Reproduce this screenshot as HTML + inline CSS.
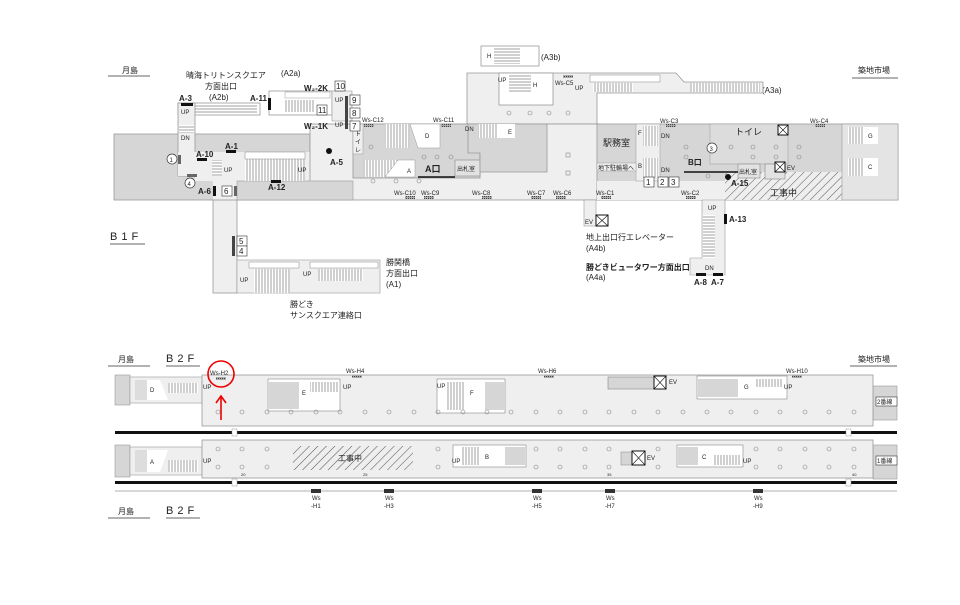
<!DOCTYPE html>
<html><head><meta charset="utf-8">
<style>
html,body{margin:0;padding:0;background:#fff;}
svg{display:block;font-family:"Liberation Sans","Noto Sans CJK JP",sans-serif;}
text{font-size:8px;fill:#222;}
.b{font-weight:bold;}
.s{font-size:6px;}
</style></head><body>
<svg width="960" height="605" viewBox="0 0 960 605" xmlns="http://www.w3.org/2000/svg">
<defs>
<pattern id="st" width="3" height="4" patternUnits="userSpaceOnUse"><rect width="3" height="4" fill="#fff"/><line x1="1" y1="0" x2="1" y2="4" stroke="#777" stroke-width="0.7"/></pattern>
<pattern id="sth" width="4" height="3" patternUnits="userSpaceOnUse"><rect width="4" height="3" fill="#fff"/><line x1="0" y1="1" x2="4" y2="1" stroke="#777" stroke-width="0.7"/></pattern>
<pattern id="hat" width="6" height="6" patternUnits="userSpaceOnUse" patternTransform="rotate(45)"><rect width="6" height="6" fill="#eee"/><line x1="0" y1="0" x2="0" y2="6" stroke="#555" stroke-width="1"/></pattern>
<pattern id="mk" width="2" height="2" patternUnits="userSpaceOnUse"><rect width="2" height="2" fill="#aaa"/><rect width="1" height="1" fill="#444"/></pattern>
</defs>

<!-- ============ B1F ============ -->
<!-- labels top -->
<text x="122" y="73">月島</text>
<line x1="108" y1="76" x2="150" y2="76" stroke="#333" stroke-width="0.8"/>
<text x="186" y="78">晴海トリトンスクエア</text>
<text x="205" y="89">方面出口</text>
<text x="209" y="100">(A2b)</text>
<text x="281" y="76">(A2a)</text>
<text x="541" y="60">(A3b)</text>
<text x="762" y="93">(A3a)</text>
<text x="858" y="73">築地市場</text>
<line x1="852" y1="78" x2="898" y2="78" stroke="#333" stroke-width="0.8"/>

<!-- upper right light area -->
<polygon points="467,73 676,73 684,82 763,82 763,93 597,93 597,124 467,124" fill="#efefef" stroke="#999" stroke-width="0.8"/>
<rect x="499" y="73" width="54" height="32" fill="#fff" stroke="#999" stroke-width="0.8"/>
<rect x="509" y="75" width="22" height="18" fill="url(#sth)"/>
<rect x="481" y="46" width="58" height="20" fill="#fff" stroke="#999" stroke-width="0.8"/>
<rect x="494" y="48" width="26" height="16" fill="url(#sth)"/>
<text x="487" y="58" class="s">H</text><text x="533" y="87" class="s">H</text>
<text x="498" y="82" class="s">UP</text>
<rect x="590" y="75" width="70" height="7" fill="#fff" stroke="#999" stroke-width="0.6"/>
<rect x="593" y="83" width="40" height="9" fill="url(#st)"/>
<rect x="690" y="83" width="70" height="9" fill="url(#st)"/>
<rect x="563" y="75" width="10" height="3" fill="url(#mk)"/>
<text x="555" y="85" class="s">Ws-C5</text><text x="575" y="90" class="s">UP</text>

<!-- left big grey & corridors -->
<rect x="114" y="134" width="196" height="66" fill="#d6d6d6" stroke="#999" stroke-width="0.8"/>
<rect x="178" y="103" width="82" height="12" fill="#fff" stroke="#999" stroke-width="0.8"/>
<rect x="195" y="105" width="62" height="8" fill="url(#sth)"/>
<rect x="178" y="103" width="17" height="73" fill="#efefef" stroke="#999" stroke-width="0.8"/>
<rect x="179" y="125" width="15" height="8" fill="url(#sth)"/>
<text x="181" y="114" class="s">UP</text><text x="181" y="140" class="s">DN</text>
<rect x="195" y="152" width="157" height="29" fill="#efefef"/>
<rect x="178" y="152" width="34" height="24" fill="#efefef"/>
<rect x="213" y="181" width="24" height="20" fill="#efefef"/>
<!-- A2a box -->
<rect x="269" y="91" width="63" height="24" fill="#fff" stroke="#999" stroke-width="0.8"/>
<rect x="285" y="92" width="45" height="6" fill="#fff" stroke="#999" stroke-width="0.5"/>
<rect x="285" y="100" width="30" height="12" fill="url(#st)"/>
<rect x="332" y="91" width="20" height="30" fill="#efefef" stroke="#999" stroke-width="0.6"/>
<!-- main light concourse -->
<rect x="310" y="124" width="290" height="76" fill="#efefef" stroke="#999" stroke-width="0.8"/>
<rect x="237" y="181" width="116" height="19" fill="#d6d6d6" stroke="#999" stroke-width="0.6"/>
<rect x="245" y="152" width="60" height="29" fill="url(#st)"/>
<rect x="245" y="152" width="60" height="7" fill="#fff" stroke="#888" stroke-width="0.5"/>
<rect x="212" y="160" width="10" height="16" fill="url(#sth)"/>
<text x="224" y="172" class="s">UP</text><text x="298" y="172" class="s">UP</text>
<!-- D/A grey block -->
<rect x="353" y="124" width="127" height="54" fill="#d6d6d6" stroke="#999" stroke-width="0.8"/>
<rect x="385" y="124" width="25" height="24" fill="url(#st)"/>
<polygon points="410,124 440,124 440,148 418,148" fill="#fff" stroke="#999" stroke-width="0.5"/>
<rect x="363" y="160" width="35" height="17" fill="url(#st)"/>
<polygon points="398,160 415,160 415,177 385,177" fill="#fff" stroke="#999" stroke-width="0.5"/>
<text x="425" y="138" class="s">D</text><text x="407" y="173" class="s">A</text>
<rect x="353" y="124" width="10" height="30" fill="#efefef" stroke="#999" stroke-width="0.5"/>
<text x="355" y="136" class="s">ト</text><text x="355" y="144" class="s">イ</text><text x="355" y="152" class="s">レ</text>
<rect x="455" y="160" width="25" height="16" fill="#e2e2e2" stroke="#888" stroke-width="0.6"/>
<text x="457" y="171" class="s">出札室</text>
<text x="425" y="172" class="b" style="font-size:9px">A口</text>
<line x1="418" y1="177" x2="455" y2="177" stroke="#111" stroke-width="1.5"/>
<!-- E block -->
<polygon points="468,124 547,124 547,172 480,172 480,153 468,153" fill="#d6d6d6" stroke="#999" stroke-width="0.8"/>
<rect x="478" y="124" width="20" height="14" fill="url(#st)"/>
<polygon points="498,124 515,124 515,138 498,138" fill="#fff"/>
<text x="465" y="131" class="s">DN</text><text x="508" y="134" class="s">E</text>
<!-- right grey band -->
<rect x="597" y="124" width="301" height="76" fill="#d6d6d6" stroke="#999" stroke-width="0.8"/>
<rect x="597" y="181" width="128" height="19" fill="#efefef"/>
<rect x="725" y="172" width="117" height="28" fill="url(#hat)"/>
<text x="770" y="196" style="font-size:9px">工事中</text>
<rect x="636" y="124" width="24" height="57" fill="#efefef" stroke="#999" stroke-width="0.5"/>
<rect x="643" y="126" width="15" height="20" fill="url(#st)"/><rect x="643" y="158" width="15" height="20" fill="url(#st)"/>
<text x="638" y="135" class="s">F</text><text x="638" y="168" class="s">B</text>
<text x="661" y="138" class="s">DN</text><text x="661" y="172" class="s">DN</text>
<text x="603" y="146" style="font-size:9px">駅務室</text>
<rect x="597" y="163" width="39" height="8" fill="#efefef" stroke="#999" stroke-width="0.5"/>
<text x="598" y="170" class="s">地下駐輪場へ</text>
<rect x="710" y="124" width="78" height="40" fill="#dcdcdc" stroke="#999" stroke-width="0.5"/>
<text x="735" y="135" style="font-size:9px">トイレ</text>
<rect x="778" y="125" width="10" height="10" fill="#fff" stroke="#111" stroke-width="1"/>
<path d="M778 125 L788 135 M788 125 L778 135" stroke="#111" stroke-width="0.6"/>
<rect x="738" y="164" width="22" height="14" fill="#e2e2e2" stroke="#888" stroke-width="0.6"/>
<text x="739" y="174" class="s">出札室</text>
<rect x="765" y="164" width="20" height="15" fill="#e2e2e2" stroke="#888" stroke-width="0.6"/>
<rect x="775" y="162" width="10" height="10" fill="#fff" stroke="#111" stroke-width="1"/>
<path d="M775 162 L785 172 M785 162 L775 172" stroke="#111" stroke-width="0.6"/>
<text x="787" y="170" class="s">EV</text>
<text x="688" y="165" class="b" style="font-size:8px">B口</text>
<line x1="684" y1="172" x2="738" y2="172" stroke="#111" stroke-width="1.5"/>
<rect x="842" y="124" width="56" height="76" fill="#e4e4e4" stroke="#999" stroke-width="0.6"/>
<rect x="848" y="127" width="16" height="17" fill="url(#st)"/><rect x="864" y="127" width="14" height="17" fill="#fff"/>
<rect x="848" y="158" width="16" height="18" fill="url(#st)"/><rect x="864" y="158" width="14" height="18" fill="#fff"/>
<text x="868" y="138" class="s">G</text><text x="868" y="169" class="s">C</text>
<!-- lower corridors B1F -->
<rect x="213" y="200" width="24" height="93" fill="#efefef" stroke="#999" stroke-width="0.8"/>
<rect x="237" y="260" width="143" height="33" fill="#efefef" stroke="#999" stroke-width="0.6"/>
<rect x="249" y="262" width="50" height="6" fill="#fff" stroke="#888" stroke-width="0.5"/>
<rect x="310" y="262" width="68" height="6" fill="#fff" stroke="#888" stroke-width="0.5"/>
<rect x="254" y="269" width="36" height="24" fill="url(#st)"/>
<rect x="318" y="269" width="45" height="12" fill="url(#st)"/>
<text x="240" y="282" class="s">UP</text><text x="303" y="276" class="s">UP</text>
<text x="386" y="265">勝鬨橋</text><text x="386" y="276">方面出口</text><text x="386" y="287">(A1)</text>
<text x="290" y="307">勝どき</text><text x="290" y="318">サンスクエア連絡口</text>
<rect x="584" y="200" width="12" height="26" fill="#efefef" stroke="#999" stroke-width="0.6"/>
<rect x="596" y="215" width="12" height="11" fill="#fff" stroke="#111" stroke-width="1"/>
<path d="M596 215 L608 226 M608 215 L596 226" stroke="#111" stroke-width="0.6"/>
<text x="585" y="224" class="s">EV</text>
<text x="586" y="240">地上出口行エレベーター</text><text x="586" y="251">(A4b)</text>
<text x="586" y="270" class="b">勝どきビュータワー方面出口</text><text x="586" y="280">(A4a)</text>
<polygon points="702,200 725,200 725,275 690,275 690,258 702,258" fill="#efefef" stroke="#999" stroke-width="0.6"/>
<rect x="703" y="215" width="12" height="43" fill="url(#sth)"/>
<text x="708" y="210" class="s">UP</text><text x="705" y="270" class="s">DN</text>
<rect x="724" y="214" width="3" height="10" fill="#111"/><text x="729" y="222" class="b">A-13</text>
<rect x="696" y="273" width="10" height="3" fill="#111"/><rect x="713" y="273" width="10" height="3" fill="#111"/>
<text x="694" y="285" class="b">A-8</text><text x="711" y="285" class="b">A-7</text>

<!-- B1F markers/labels -->
<rect x="181" y="103" width="12" height="3" fill="#111"/><text x="179" y="101" class="b">A-3</text>
<rect x="268" y="98" width="3" height="12" fill="#111"/><text x="250" y="101" class="b">A-11</text>
<text x="304" y="91" class="b">W₂-2K</text><text x="304" y="129" class="b">W₂-1K</text>
<rect x="335" y="81" width="10" height="10" fill="#fff" stroke="#333" stroke-width="0.6"/><text x="336" y="89">10</text>
<rect x="350" y="95" width="10" height="10" fill="#fff" stroke="#333" stroke-width="0.6"/><text x="352" y="103">9</text>
<rect x="350" y="108" width="10" height="10" fill="#fff" stroke="#333" stroke-width="0.6"/><text x="352" y="116">8</text>
<rect x="350" y="121" width="10" height="10" fill="#fff" stroke="#333" stroke-width="0.6"/><text x="352" y="129">7</text>
<rect x="317" y="105" width="10" height="10" fill="#fff" stroke="#333" stroke-width="0.6"/><text x="318" y="113">11</text>
<rect x="345" y="96" width="3" height="33" fill="#444"/>
<text x="335" y="102" class="s">UP</text><text x="335" y="127" class="s">UP</text>
<circle cx="172" cy="159" r="5" fill="#fff" stroke="#333" stroke-width="0.7"/><text x="169.5" y="162" class="s">1</text>
<rect x="178" y="155" width="3" height="9" fill="#666"/>
<circle cx="190" cy="183" r="5" fill="#fff" stroke="#333" stroke-width="0.7"/><text x="187.5" y="186" class="s">4</text>
<rect x="187" y="174" width="10" height="3" fill="#666"/>
<rect x="197" y="158" width="10" height="3" fill="#111"/><text x="196" y="157" class="b">A-10</text>
<rect x="226" y="150" width="10" height="3" fill="#111"/><text x="225" y="149" class="b">A-1</text>
<rect x="271" y="180" width="10" height="3" fill="#111"/><text x="268" y="190" class="b">A-12</text>
<rect x="213" y="186" width="3" height="10" fill="#111"/><text x="198" y="194" class="b">A-6</text>
<rect x="222" y="186" width="10" height="10" fill="#fff" stroke="#333" stroke-width="0.6"/><text x="224" y="194">6</text>
<rect x="234" y="186" width="3" height="10" fill="#666"/>
<circle cx="329" cy="151" r="3" fill="#111"/><text x="330" y="165" class="b">A-5</text>
<rect x="232" y="236" width="3" height="20" fill="#444"/>
<rect x="237" y="236" width="10" height="10" fill="#fff" stroke="#333" stroke-width="0.6"/><text x="239" y="244">5</text>
<rect x="237" y="246" width="10" height="10" fill="#fff" stroke="#333" stroke-width="0.6"/><text x="239" y="254">4</text>
<text x="110" y="240" style="font-size:11px;letter-spacing:4px">B1F</text>
<line x1="110" y1="244" x2="145" y2="244" stroke="#333" stroke-width="0.8"/>
<!-- ws markers -->
<g class="s">
<text x="362" y="122" class="s">Ws-C12</text><rect x="364" y="124" width="10" height="3" fill="url(#mk)"/>
<text x="433" y="122" class="s">Ws-C11</text><rect x="441" y="124" width="10" height="3" fill="url(#mk)"/>
<text x="394" y="195" class="s">Ws-C10</text><rect x="405" y="196" width="10" height="3" fill="url(#mk)"/>
<text x="421" y="195" class="s">Ws-C9</text><rect x="424" y="196" width="10" height="3" fill="url(#mk)"/>
<text x="472" y="195" class="s">Ws-C8</text><rect x="482" y="196" width="10" height="3" fill="url(#mk)"/>
<text x="527" y="195" class="s">Ws-C7</text><rect x="531" y="196" width="10" height="3" fill="url(#mk)"/>
<text x="553" y="195" class="s">Ws-C6</text><rect x="556" y="196" width="10" height="3" fill="url(#mk)"/>
<text x="596" y="195" class="s">Ws-C1</text><rect x="601" y="196" width="10" height="3" fill="url(#mk)"/>
<text x="681" y="195" class="s">Ws-C2</text><rect x="686" y="196" width="10" height="3" fill="url(#mk)"/>
<text x="660" y="123" class="s">Ws-C3</text><rect x="666" y="124" width="10" height="3" fill="url(#mk)"/>
<text x="810" y="123" class="s">Ws-C4</text><rect x="815" y="124" width="10" height="3" fill="url(#mk)"/>
</g>
<rect x="644" y="177" width="10" height="10" fill="#fff" stroke="#333" stroke-width="0.6"/><text x="646" y="185">1</text>
<rect x="658" y="177" width="10" height="10" fill="#fff" stroke="#333" stroke-width="0.6"/><text x="660" y="185">2</text>
<rect x="669" y="177" width="10" height="10" fill="#fff" stroke="#333" stroke-width="0.6"/><text x="671" y="185">3</text>
<circle cx="712" cy="148" r="5" fill="#fff" stroke="#333" stroke-width="0.7"/><text x="709.5" y="151" class="s">3</text>
<circle cx="728" cy="177" r="3" fill="#111"/><text x="731" y="186" class="b">A-15</text>
<g fill="none" stroke="#888" stroke-width="0.6">
<circle cx="371" cy="147" r="2"/><circle cx="424" cy="157" r="2"/><circle cx="437" cy="157" r="2"/><circle cx="451" cy="157" r="2"/>
<circle cx="373" cy="181" r="2"/><circle cx="396" cy="181" r="2"/><circle cx="419" cy="181" r="2"/>
<circle cx="509" cy="113" r="2"/><circle cx="530" cy="113" r="2"/><circle cx="549" cy="113" r="2"/><circle cx="568" cy="113" r="2"/>
<rect x="566" y="153" width="4" height="4"/><rect x="566" y="171" width="4" height="4"/>
<circle cx="686" cy="147" r="2"/><circle cx="686" cy="157" r="2"/><circle cx="731" cy="147" r="2"/><circle cx="753" cy="147" r="2"/><circle cx="776" cy="147" r="2"/><circle cx="799" cy="147" r="2"/><circle cx="799" cy="157" r="2"/><circle cx="753" cy="157" r="2"/><circle cx="776" cy="157" r="2"/><circle cx="708" cy="176" r="2"/>
</g>

<!-- ============ B2F ============ -->
<text x="118" y="362">月島</text><line x1="108" y1="366" x2="150" y2="366" stroke="#333" stroke-width="0.8"/>
<text x="166" y="362" style="font-size:11px;letter-spacing:4px">B2F</text><line x1="166" y1="366" x2="200" y2="366" stroke="#333" stroke-width="0.8"/>
<text x="858" y="362">築地市場</text><line x1="850" y1="366" x2="897" y2="366" stroke="#333" stroke-width="0.8"/>
<text x="118" y="514">月島</text><line x1="108" y1="518" x2="150" y2="518" stroke="#333" stroke-width="0.8"/>
<text x="166" y="514" style="font-size:11px;letter-spacing:4px">B2F</text><line x1="166" y1="518" x2="200" y2="518" stroke="#333" stroke-width="0.8"/>

<!-- left stubs -->
<rect x="115" y="375" width="15" height="30" fill="#d6d6d6" stroke="#999" stroke-width="0.6"/>
<rect x="130" y="377" width="72" height="26" fill="#efefef" stroke="#999" stroke-width="0.6"/>
<rect x="135" y="380" width="12" height="20" fill="#ddd"/>
<polygon points="147,380 160,380 168,400 147,400" fill="#fff"/><rect x="168" y="383" width="30" height="10" fill="url(#st)"/>
<text x="150" y="392" class="s">D</text>
<rect x="115" y="445" width="15" height="32" fill="#d6d6d6" stroke="#999" stroke-width="0.6"/>
<rect x="130" y="447" width="72" height="28" fill="#efefef" stroke="#999" stroke-width="0.6"/>
<rect x="135" y="450" width="12" height="22" fill="#ddd"/>
<polygon points="147,450 168,450 160,472 147,472" fill="#fff"/><rect x="168" y="460" width="30" height="12" fill="url(#st)"/>
<text x="150" y="464" class="s">A</text>
<!-- right stubs -->
<rect x="873" y="386" width="24" height="34" fill="#d6d6d6" stroke="#999" stroke-width="0.6"/>
<rect x="876" y="397" width="21" height="9" fill="#fff" stroke="#333" stroke-width="0.6"/><text x="877" y="404" class="s">2番線</text>
<rect x="873" y="445" width="24" height="34" fill="#d6d6d6" stroke="#999" stroke-width="0.6"/>
<rect x="876" y="456" width="21" height="9" fill="#fff" stroke="#333" stroke-width="0.6"/><text x="877" y="463" class="s">1番線</text>

<!-- platforms -->
<rect x="202" y="375" width="671" height="51" fill="#efefef" stroke="#999" stroke-width="0.8"/>
<rect x="202" y="440" width="671" height="38" fill="#efefef" stroke="#999" stroke-width="0.8"/>
<rect x="115" y="431" width="782" height="3" fill="#111"/>
<rect x="115" y="481" width="782" height="3" fill="#111"/>
<rect x="232" y="429" width="5" height="7" fill="#fff" stroke="#999" stroke-width="0.5"/>
<rect x="846" y="429" width="5" height="7" fill="#fff" stroke="#999" stroke-width="0.5"/>
<rect x="232" y="479" width="5" height="7" fill="#fff" stroke="#999" stroke-width="0.5"/>
<rect x="846" y="479" width="5" height="7" fill="#fff" stroke="#999" stroke-width="0.5"/>
<line x1="115" y1="491" x2="897" y2="491" stroke="#999" stroke-width="0.8"/>

<!-- upper blocks -->
<rect x="268" y="379" width="72" height="32" fill="#fff" stroke="#888" stroke-width="0.6"/>
<rect x="269" y="382" width="30" height="27" fill="#d6d6d6"/><rect x="299" y="382" width="10" height="27" fill="#fff"/>
<rect x="310" y="382" width="28" height="10" fill="url(#st)"/><text x="302" y="395" class="s">E</text>
<text x="343" y="389" class="s">UP</text>
<rect x="437" y="379" width="68" height="34" fill="#fff" stroke="#888" stroke-width="0.6"/>
<rect x="447" y="382" width="18" height="28" fill="url(#st)"/><rect x="485" y="382" width="20" height="28" fill="#d6d6d6"/>
<text x="470" y="395" class="s">F</text><text x="437" y="388" class="s">UP</text>
<rect x="608" y="377" width="54" height="12" fill="#d6d6d6" stroke="#888" stroke-width="0.6"/>
<rect x="654" y="376" width="12" height="13" fill="#fff" stroke="#111" stroke-width="1"/>
<path d="M654 376 L666 389 M666 376 L654 389" stroke="#111" stroke-width="0.6"/>
<text x="669" y="384" class="s">EV</text>
<rect x="697" y="376" width="90" height="23" fill="#fff" stroke="#888" stroke-width="0.6"/>
<rect x="698" y="379" width="40" height="18" fill="#d6d6d6"/>
<rect x="755" y="379" width="28" height="8" fill="url(#st)"/><text x="744" y="389" class="s">G</text>
<text x="784" y="389" class="s">UP</text>
<text x="203" y="389" class="s">UP</text>
<!-- lower blocks -->
<rect x="293" y="446" width="120" height="24" fill="url(#hat)"/>
<text x="338" y="461" style="font-size:8px">工事中</text>
<rect x="453" y="445" width="73" height="22" fill="#fff" stroke="#888" stroke-width="0.6"/>
<rect x="462" y="447" width="18" height="18" fill="url(#st)"/><rect x="505" y="447" width="20" height="18" fill="#d6d6d6"/>
<text x="485" y="459" class="s">B</text><text x="452" y="463" class="s">UP</text>
<rect x="621" y="452" width="11" height="13" fill="#d6d6d6" stroke="#888" stroke-width="0.5"/>
<rect x="632" y="451" width="13" height="14" fill="#fff" stroke="#111" stroke-width="1"/>
<path d="M632 451 L645 465 M645 451 L632 465" stroke="#111" stroke-width="0.6"/>
<text x="647" y="460" class="s">EV</text>
<rect x="677" y="445" width="66" height="22" fill="#fff" stroke="#888" stroke-width="0.6"/>
<rect x="678" y="447" width="20" height="18" fill="#d6d6d6"/>
<rect x="713" y="455" width="28" height="10" fill="url(#st)"/><text x="702" y="459" class="s">C</text>
<text x="743" y="463" class="s">UP</text>
<text x="203" y="463" class="s">UP</text>

<!-- columns -->
<g fill="none" stroke="#888" stroke-width="0.6">
<circle cx="218" cy="412" r="2"/><circle cx="242" cy="412" r="2"/><circle cx="267" cy="412" r="2"/><circle cx="291" cy="412" r="2"/><circle cx="316" cy="412" r="2"/><circle cx="340" cy="412" r="2"/><circle cx="365" cy="412" r="2"/><circle cx="389" cy="412" r="2"/><circle cx="414" cy="412" r="2"/><circle cx="438" cy="412" r="2"/><circle cx="463" cy="412" r="2"/><circle cx="487" cy="412" r="2"/><circle cx="511" cy="412" r="2"/><circle cx="536" cy="412" r="2"/><circle cx="560" cy="412" r="2"/><circle cx="585" cy="412" r="2"/><circle cx="609" cy="412" r="2"/><circle cx="634" cy="412" r="2"/><circle cx="658" cy="412" r="2"/><circle cx="683" cy="412" r="2"/><circle cx="707" cy="412" r="2"/><circle cx="731" cy="412" r="2"/><circle cx="756" cy="412" r="2"/><circle cx="780" cy="412" r="2"/><circle cx="805" cy="412" r="2"/><circle cx="829" cy="412" r="2"/><circle cx="854" cy="412" r="2"/>
<circle cx="218" cy="449" r="2"/><circle cx="242" cy="449" r="2"/><circle cx="267" cy="449" r="2"/><circle cx="438" cy="449" r="2"/><circle cx="536" cy="449" r="2"/><circle cx="560" cy="449" r="2"/><circle cx="585" cy="449" r="2"/><circle cx="609" cy="449" r="2"/><circle cx="658" cy="449" r="2"/><circle cx="756" cy="449" r="2"/><circle cx="780" cy="449" r="2"/><circle cx="805" cy="449" r="2"/><circle cx="829" cy="449" r="2"/><circle cx="854" cy="449" r="2"/>
<circle cx="218" cy="467" r="2"/><circle cx="242" cy="467" r="2"/><circle cx="267" cy="467" r="2"/><circle cx="438" cy="467" r="2"/><circle cx="536" cy="467" r="2"/><circle cx="560" cy="467" r="2"/><circle cx="585" cy="467" r="2"/><circle cx="609" cy="467" r="2"/><circle cx="658" cy="467" r="2"/><circle cx="756" cy="467" r="2"/><circle cx="780" cy="467" r="2"/><circle cx="805" cy="467" r="2"/><circle cx="829" cy="467" r="2"/><circle cx="854" cy="467" r="2"/>
</g>
<text x="241" y="476" style="font-size:4px">20</text><text x="363" y="476" style="font-size:4px">25</text><text x="607" y="476" style="font-size:4px">35</text><text x="852" y="476" style="font-size:4px">40</text>

<!-- Ws-H labels -->
<text x="210" y="375" class="s">Ws-H2</text><rect x="216" y="377" width="10" height="3" fill="url(#mk)"/>
<text x="346" y="373" class="s">Ws-H4</text><rect x="352" y="375" width="10" height="3" fill="url(#mk)"/>
<text x="538" y="373" class="s">Ws-H6</text><rect x="544" y="375" width="10" height="3" fill="url(#mk)"/>
<text x="786" y="373" class="s">Ws-H10</text><rect x="792" y="375" width="10" height="3" fill="url(#mk)"/>
<g font-size="6">
<rect x="311" y="489" width="10" height="4" fill="#333"/><text x="312" y="500" class="s">Ws</text><text x="311" y="508" class="s">-H1</text>
<rect x="384" y="489" width="10" height="4" fill="#333"/><text x="385" y="500" class="s">Ws</text><text x="384" y="508" class="s">-H3</text>
<rect x="532" y="489" width="10" height="4" fill="#333"/><text x="533" y="500" class="s">Ws</text><text x="532" y="508" class="s">-H5</text>
<rect x="605" y="489" width="10" height="4" fill="#333"/><text x="606" y="500" class="s">Ws</text><text x="605" y="508" class="s">-H7</text>
<rect x="753" y="489" width="10" height="4" fill="#333"/><text x="754" y="500" class="s">Ws</text><text x="753" y="508" class="s">-H9</text>
</g>
<!-- red highlight -->
<circle cx="221" cy="374" r="13" fill="none" stroke="#e00" stroke-width="1.6"/>
<line x1="221" y1="420" x2="221" y2="397" stroke="#e00" stroke-width="1.6"/>
<polyline points="216,403 221,396 226,403" fill="none" stroke="#e00" stroke-width="1.6"/>
</svg>
</body></html>
